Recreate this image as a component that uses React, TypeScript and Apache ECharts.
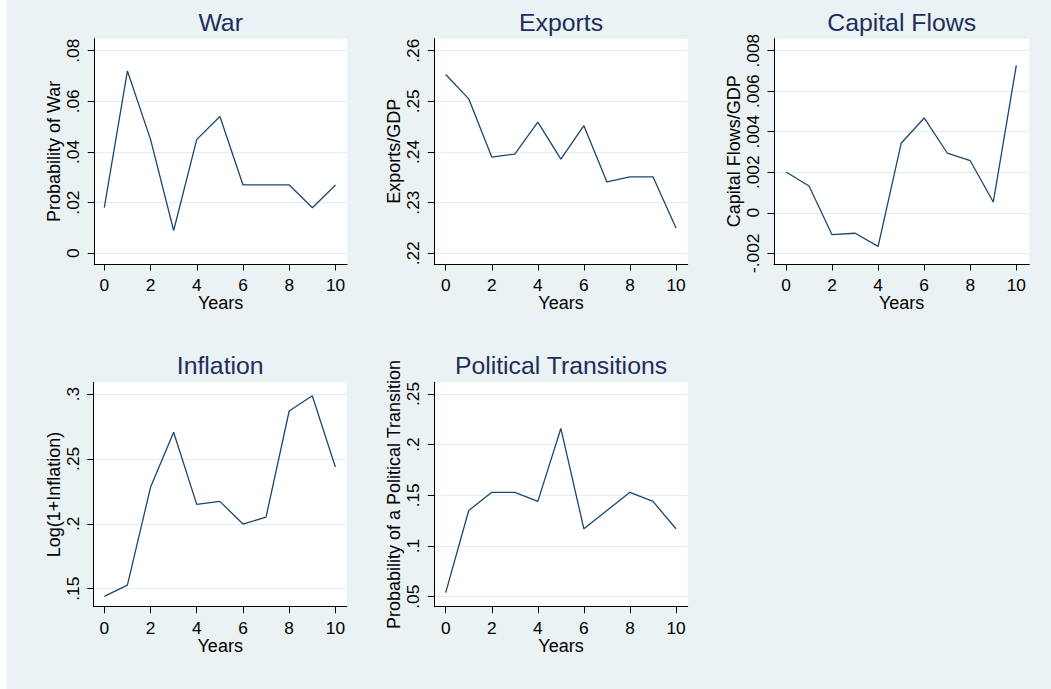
import React, { useEffect, useRef } from "react";
import * as echarts from "echarts";

const years = [0, 1, 2, 3, 4, 5, 6, 7, 8, 9, 10];
const warProb = [0.018, 0.072, 0.045, 0.009, 0.045, 0.054, 0.027, 0.027, 0.027, 0.018, 0.027];
const exportsGdp = [0.2553, 0.2505, 0.239, 0.2396, 0.2459, 0.2386, 0.2452, 0.2341, 0.2351, 0.2351, 0.225];
const capitalFlowsGdp = [0.00201, 0.00132, -0.00108, -0.00101, -0.00166, 0.00343, 0.00468, 0.00295, 0.00257, 0.00053, 0.00728];
const inflationLog = [0.1441, 0.1528, 0.2281, 0.2705, 0.215, 0.2173, 0.1998, 0.2052, 0.2869, 0.2987, 0.2438];
const politicalProb = [0.054, 0.135, 0.153, 0.153, 0.144, 0.216, 0.117, 0.135, 0.153, 0.144, 0.117];

const xTicks = [0, 2, 4, 6, 8, 10];
const warTicks = [0, 0.02, 0.04, 0.06, 0.08];
const exportsTicks = [0.22, 0.23, 0.24, 0.25, 0.26];
const capitalTicks = [-0.002, 0, 0.002, 0.004, 0.006, 0.008];
const inflationTicks = [0.15, 0.2, 0.25, 0.3];
const politicalTicks = [0.05, 0.1, 0.15, 0.2, 0.25];

const titles = ["War", "Exports", "Capital Flows", "Inflation", "Political Transitions"];
const yNames = [
  "Probability of War",
  "Exports/GDP",
  "Capital Flows/GDP",
  "Log(1+Inflation)",
  "Probability of a Political Transition",
];
const xName = "Years";

const FONT = '"Liberation Sans", Arial, Helvetica, sans-serif';
const BG = "#eaf2f3";
const LINE = "#1a476f";
const TITLE = "#1e2d5c";

// layout (chart coords; chart div is offset 7px from page left)
const panels = [
  { left: 87.3, top: 38.7, width: 252.7, height: 225.3, xMin: -0.4325, xMax: 10.497, yMin: -0.004225, yMax: 0.08474 },
  { left: 427.3, top: 38.7, width: 253.4, height: 225.3, xMin: -0.495, xMax: 10.508, yMin: 0.21789, yMax: 0.26237 },
  { left: 767, top: 38.7, width: 255.3, height: 225.3, xMin: -0.521, xMax: 10.564, yMin: -0.002528, yMax: 0.008592 },
  { left: 86.7, top: 382.3, width: 253, height: 224.4, xMin: -0.459, xMax: 10.49, yMin: 0.13613, yMax: 0.30901 },
  { left: 427.3, top: 382.3, width: 253.4, height: 224.4, xMin: -0.495, xMax: 10.508, yMin: 0.04013, yMax: 0.26154 },
];

const seriesValues = [warProb, exportsGdp, capitalFlowsGdp, inflationLog, politicalProb];
const yTickSets = [warTicks, exportsTicks, capitalTicks, inflationTicks, politicalTicks];

function stataFmt(v: number): string {
  let s = String(+v.toFixed(6));
  s = s.replace(/^(-?)0\./, "$1.");
  return s;
}

export default function App() {
  const ref = useRef<HTMLDivElement>(null);
  useEffect(() => {
    if (!ref.current) return;
    const chart = echarts.init(ref.current, null, { renderer: "svg" });
    const grids = panels.map((p) => ({
      left: p.left,
      top: p.top,
      width: p.width,
      height: p.height,
      show: true,
      backgroundColor: "#ffffff",
      borderWidth: 0,
      containLabel: false,
      outerBoundsMode: "none",
    }));
    const xAxes = panels.map((p, i) => ({
      type: "value",
      gridIndex: i,
      min: p.xMin,
      max: p.xMax,
      name: xName,
      nameLocation: "middle",
      nameGap: 29,
      nameTextStyle: { fontSize: 18, color: "#000", fontFamily: FONT },
      axisLine: { show: true, onZero: false, lineStyle: { color: "#000", width: 1 } },
      axisTick: { show: true, length: 6.5, customValues: xTicks, lineStyle: { color: "#000", width: 1 } },
      axisLabel: {
        show: true,
        customValues: xTicks,
        margin: 12.5,
        fontSize: 17.3,
        color: "#000",
        fontFamily: FONT,
        formatter: (v: number) => stataFmt(v),
      },
      splitLine: { show: false },
    }));
    const yAxes = panels.map((p, i) => ({
      type: "value",
      gridIndex: i,
      min: p.yMin,
      max: p.yMax,
      name: yNames[i],
      nameLocation: "middle",
      nameGap: 31,
      nameTextStyle: { fontSize: 18, color: "#000", fontFamily: FONT },
      axisLine: { show: true, onZero: false, lineStyle: { color: "#000", width: 1 } },
      axisTick: { show: true, length: 6.5, customValues: yTickSets[i], lineStyle: { color: "#000", width: 1 } },
      axisLabel: {
        show: true,
        customValues: yTickSets[i],
        rotate: 90,
        margin: 12.5,
        fontSize: 17.3,
        color: "#000",
        fontFamily: FONT,
        formatter: (v: number) => stataFmt(v),
      },
      splitLine: { show: true, lineStyle: { color: "#e3edee", width: 1 } },
    }));
    const series = seriesValues.map((vals, i) => ({
      type: "line",
      xAxisIndex: i,
      yAxisIndex: i,
      data: years.map((y, k) => [y, vals[k]]),
      showSymbol: false,
      symbol: "none",
      lineStyle: { color: LINE, width: 1.3 },
      z: 3,
    }));
    const graphics = panels.map((p, i) => ({
      type: "text",
      x: p.left + p.width / 2,
      y: p.top - 16.5,
      style: {
        text: titles[i],
        fill: TITLE,
        fontSize: 24.8,
        fontFamily: FONT,
        align: "center",
        verticalAlign: "middle",
      },
    }));
    chart.setOption({
      animation: false,
      backgroundColor: BG,
      grid: grids,
      xAxis: xAxes,
      yAxis: yAxes,
      series,
      graphic: graphics,
    } as any);
    return () => chart.dispose();
  }, []);
  return (
    <div style={{ position: "fixed", left: 0, top: 0, width: 1051, height: 689, background: "#fff" }}>
      <div ref={ref} style={{ position: "absolute", left: 7, top: 0, width: 1044, height: 689 }} />
    </div>
  );
}
